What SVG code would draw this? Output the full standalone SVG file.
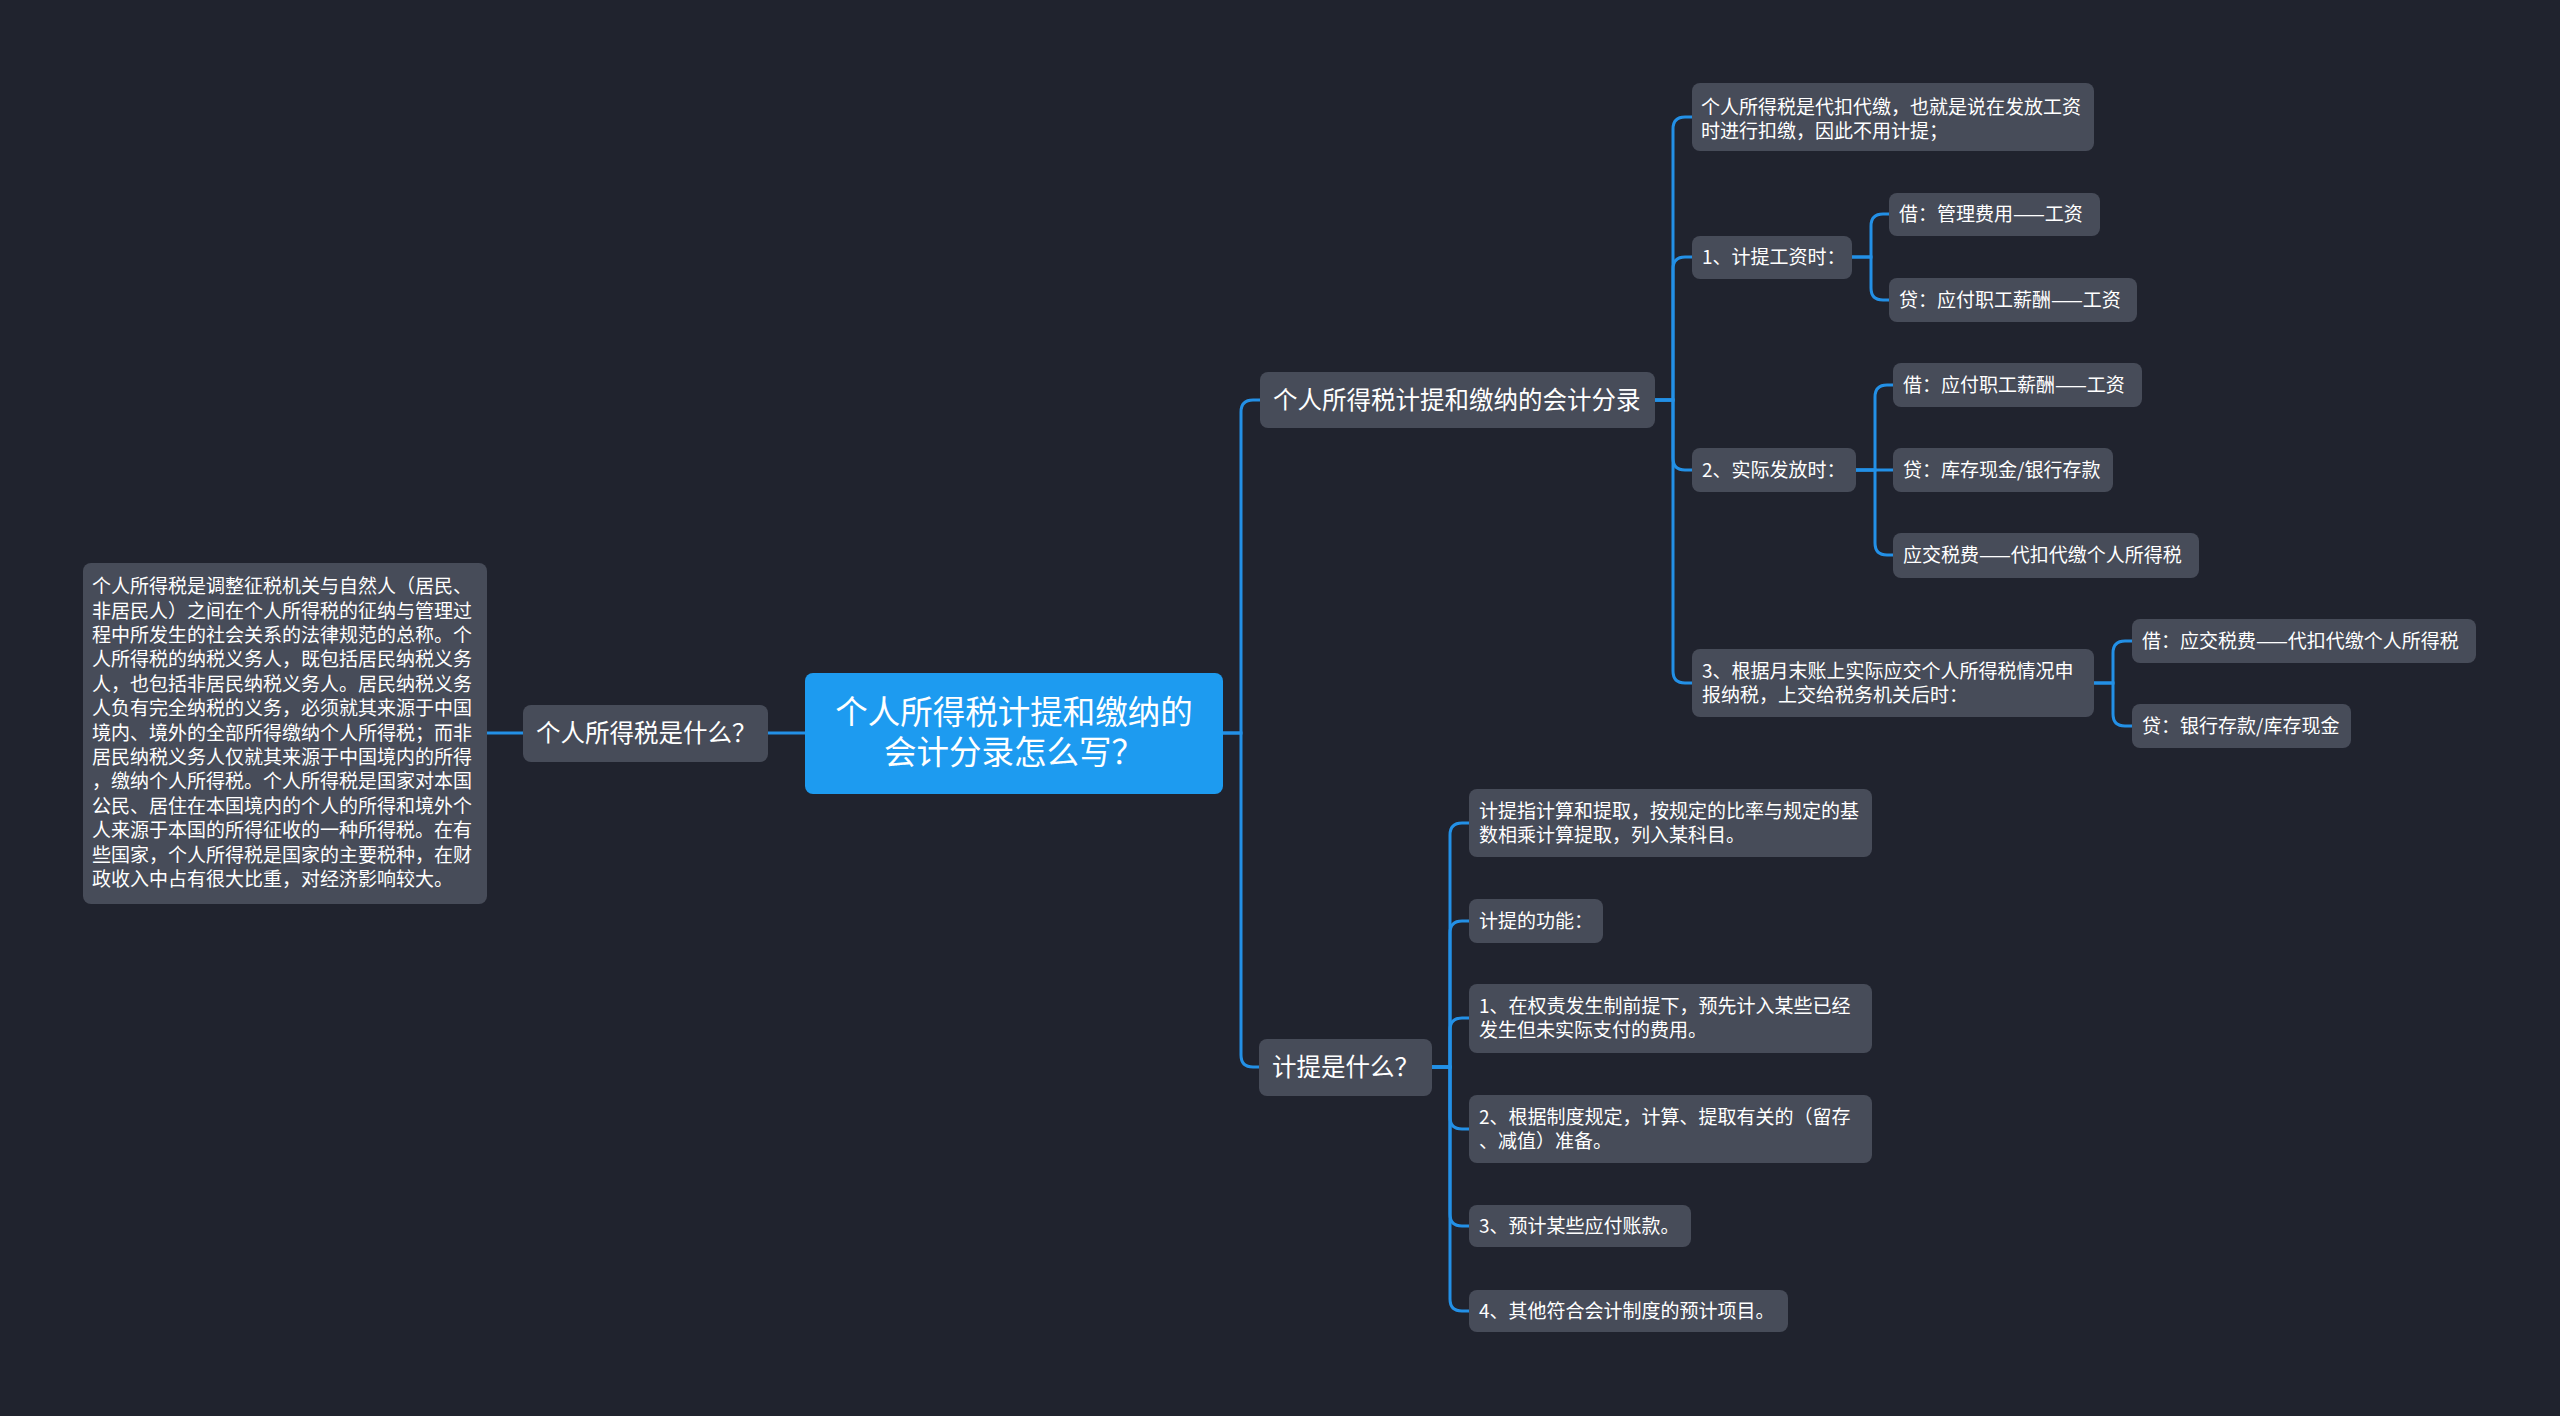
<svg xmlns="http://www.w3.org/2000/svg" width="2560" height="1416" viewBox="0 0 2560 1416">
<style>
.bg{fill:#20232e}
.n{fill:#474c59}
.root{fill:#1d9bf0}
.t{font-family:"Noto Sans CJK SC","Noto Sans",sans-serif;fill:#ffffff;font-size:19px}
.t2{font-family:"Noto Sans CJK SC","Noto Sans",sans-serif;fill:#ffffff;font-size:24.5px}
.t3{font-family:"Noto Sans CJK SC","Noto Sans",sans-serif;fill:#ffffff;font-size:32.5px;text-anchor:middle}
.c{fill:none;stroke:#2390e6;stroke-width:3}
</style>
<rect class="bg" x="0" y="0" width="2560" height="1416"/>
<g id="connectors">
<path class="c" d="M805,733 H768"/>
<path class="c" d="M523,733 H487"/>
<path class="c" d="M1223,733 H1241 V412 Q1241,400 1253,400 H1260"/>
<path class="c" d="M1223,733 H1241 V1055 Q1241,1067 1253,1067 H1259"/>
<path class="c" d="M1655,400 H1673 V129 Q1673,117 1685,117 H1692"/>
<path class="c" d="M1655,400 H1673 V269 Q1673,257 1685,257 H1692"/>
<path class="c" d="M1655,400 H1673 V458 Q1673,470 1685,470 H1692"/>
<path class="c" d="M1655,400 H1673 V671 Q1673,683 1685,683 H1692"/>
<path class="c" d="M1852,257 H1871 V226 Q1871,214 1883,214 H1889"/>
<path class="c" d="M1852,257 H1871 V288 Q1871,300 1883,300 H1889"/>
<path class="c" d="M1856,470 H1875 V397 Q1875,385 1887,385 H1893"/>
<path class="c" d="M1856,470 H1893"/>
<path class="c" d="M1856,470 H1875 V543 Q1875,555 1887,555 H1893"/>
<path class="c" d="M2094,683 H2113 V653 Q2113,641 2125,641 H2132"/>
<path class="c" d="M2094,683 H2113 V714 Q2113,726 2125,726 H2132"/>
<path class="c" d="M1432,1067 H1450 V835 Q1450,823 1462,823 H1469"/>
<path class="c" d="M1432,1067 H1450 V933 Q1450,921 1462,921 H1469"/>
<path class="c" d="M1432,1067 H1450 V1030 Q1450,1018 1462,1018 H1469"/>
<path class="c" d="M1432,1067 H1450 V1117 Q1450,1129 1462,1129 H1469"/>
<path class="c" d="M1432,1067 H1450 V1214 Q1450,1226 1462,1226 H1469"/>
<path class="c" d="M1432,1067 H1450 V1299 Q1450,1311 1462,1311 H1469"/>
</g>
<g id="root">
<rect class="root" x="805" y="673" width="418" height="121" rx="8"/>
<text class="t3"><tspan x="1014" y="724">个人所得税计提和缴纳的</tspan><tspan x="1014" y="764">会计分录怎么写？</tspan></text>
</g>
<g id="n-what-tax">
<rect class="n" x="523" y="705" width="245" height="57" rx="8"/>
<text class="t2" x="536" y="742">个人所得税是什么？</text>
</g>
<g id="n-tax-def">
<rect class="n" x="83" y="563" width="404" height="341" rx="8"/>
<text class="t" x="92">
<tspan x="92" y="593.2">个人所得税是调整征税机关与自然人（居民、</tspan>
<tspan x="92" y="617.6">非居民人）之间在个人所得税的征纳与管理过</tspan>
<tspan x="92" y="642">程中所发生的社会关系的法律规范的总称。个</tspan>
<tspan x="92" y="666.4">人所得税的纳税义务人，既包括居民纳税义务</tspan>
<tspan x="92" y="690.8">人，也包括非居民纳税义务人。居民纳税义务</tspan>
<tspan x="92" y="715.2">人负有完全纳税的义务，必须就其来源于中国</tspan>
<tspan x="92" y="739.6">境内、境外的全部所得缴纳个人所得税；而非</tspan>
<tspan x="92" y="764">居民纳税义务人仅就其来源于中国境内的所得</tspan>
<tspan x="92" y="788.4">，缴纳个人所得税。个人所得税是国家对本国</tspan>
<tspan x="92" y="812.8">公民、居住在本国境内的个人的所得和境外个</tspan>
<tspan x="92" y="837.2">人来源于本国的所得征收的一种所得税。在有</tspan>
<tspan x="92" y="861.6">些国家，个人所得税是国家的主要税种，在财</tspan>
<tspan x="92" y="886">政收入中占有很大比重，对经济影响较大。</tspan>
</text>
</g>
<g id="n-entries">
<rect class="n" x="1260" y="372" width="395" height="56" rx="8"/>
<text class="t2" x="1273" y="409">个人所得税计提和缴纳的会计分录</text>
</g>
<g id="n-withhold">
<rect class="n" x="1692" y="83" width="402" height="68" rx="8"/>
<text class="t"><tspan x="1701" y="114">个人所得税是代扣代缴，也就是说在发放工资</tspan><tspan x="1701" y="138">时进行扣缴，因此不用计提；</tspan></text>
</g>
<g id="n-step1">
<rect class="n" x="1692" y="236" width="160" height="43" rx="8"/>
<text class="t" x="1702" y="264">1、计提工资时：</text>
</g>
<g id="n-step1-debit">
<rect class="n" x="1889" y="193" width="211" height="43" rx="8"/>
<text class="t" x="1899" y="221">借：管理费用——工资</text>
</g>
<g id="n-step1-credit">
<rect class="n" x="1889" y="278" width="248" height="44" rx="8"/>
<text class="t" x="1899" y="307">贷：应付职工薪酬——工资</text>
</g>
<g id="n-step2">
<rect class="n" x="1692" y="448" width="164" height="44" rx="8"/>
<text class="t" x="1702" y="477">2、实际发放时：</text>
</g>
<g id="n-step2-debit">
<rect class="n" x="1893" y="363" width="249" height="44" rx="8"/>
<text class="t" x="1903" y="392">借：应付职工薪酬——工资</text>
</g>
<g id="n-step2-credit">
<rect class="n" x="1893" y="448" width="220" height="44" rx="8"/>
<text class="t" x="1903" y="477">贷：库存现金/银行存款</text>
</g>
<g id="n-step2-tax">
<rect class="n" x="1893" y="533" width="306" height="45" rx="8"/>
<text class="t" x="1903" y="562">应交税费——代扣代缴个人所得税</text>
</g>
<g id="n-step3">
<rect class="n" x="1692" y="649" width="402" height="68" rx="8"/>
<text class="t"><tspan x="1702" y="678">3、根据月末账上实际应交个人所得税情况申</tspan><tspan x="1702" y="702">报纳税，上交给税务机关后时：</tspan></text>
</g>
<g id="n-step3-debit">
<rect class="n" x="2132" y="619" width="344" height="44" rx="8"/>
<text class="t" x="2142" y="648">借：应交税费——代扣代缴个人所得税</text>
</g>
<g id="n-step3-credit">
<rect class="n" x="2132" y="704" width="219" height="44" rx="8"/>
<text class="t" x="2142" y="733">贷：银行存款/库存现金</text>
</g>
<g id="n-accrual">
<rect class="n" x="1259" y="1039" width="173" height="57" rx="8"/>
<text class="t2" x="1272" y="1076">计提是什么？</text>
</g>
<g id="n-accrual-def">
<rect class="n" x="1469" y="789" width="403" height="68" rx="8"/>
<text class="t"><tspan x="1479" y="818">计提指计算和提取，按规定的比率与规定的基</tspan><tspan x="1479" y="842">数相乘计算提取，列入某科目。</tspan></text>
</g>
<g id="n-accrual-func">
<rect class="n" x="1469" y="899" width="134" height="44" rx="8"/>
<text class="t" x="1479" y="928">计提的功能：</text>
</g>
<g id="n-func1">
<rect class="n" x="1469" y="984" width="403" height="69" rx="8"/>
<text class="t"><tspan x="1479" y="1013">1、在权责发生制前提下，预先计入某些已经</tspan><tspan x="1479" y="1037">发生但未实际支付的费用。</tspan></text>
</g>
<g id="n-func2">
<rect class="n" x="1469" y="1095" width="403" height="68" rx="8"/>
<text class="t"><tspan x="1479" y="1124">2、根据制度规定，计算、提取有关的（留存</tspan><tspan x="1479" y="1148">、减值）准备。</tspan></text>
</g>
<g id="n-func3">
<rect class="n" x="1469" y="1205" width="222" height="42" rx="8"/>
<text class="t" x="1479" y="1233">3、预计某些应付账款。</text>
</g>
<g id="n-func4">
<rect class="n" x="1469" y="1290" width="319" height="42" rx="8"/>
<text class="t" x="1479" y="1318">4、其他符合会计制度的预计项目。</text>
</g>
</svg>
